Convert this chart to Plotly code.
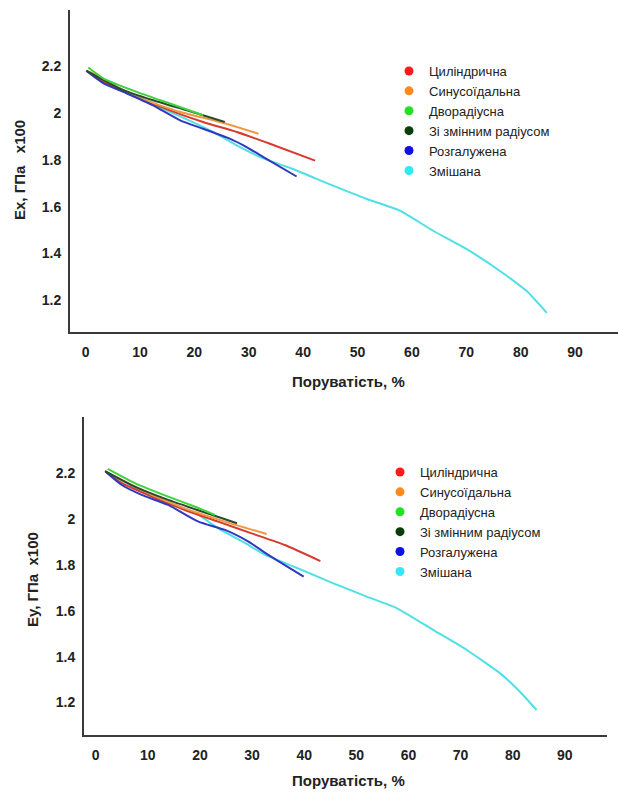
import plotly.graph_objects as go

W, H = 618, 792

series_names = ["Циліндрична", "Синусоїдальна", "Дворадіусна",
                "Зі змінним радіусом", "Розгалужена", "Змішана"]
line_colors = ["#d83a30", "#f0983e", "#3fd23f", "#2b4a2b", "#3038c0", "#4fe0e6"]
dot_colors = ["#ff1a1a", "#ff8a1f", "#22e022", "#0b3d0b", "#1010e0", "#33e8f4"]

x_ticks = [0, 10, 20, 30, 40, 50, 60, 70, 80, 90]
x_ticktext = ["0", "10", "20", "30", "40", "50", "60", "70", "80", "90"]
y_ticks = [1.2, 1.4, 1.6, 1.8, 2.0, 2.2]
y_ticktext = ["1.2", "1.4", "1.6", "1.8", "2", "2.2"]

# ---- Ex (top chart) ----
ex_cyl_x = [0.2, 3.3, 9.4, 15.5, 21.6, 27.8, 33.9, 42.2]
ex_cyl_y = [2.181, 2.133, 2.069, 2.012, 1.962, 1.919, 1.869, 1.797]
ex_sin_x = [0.8, 9.4, 17.4, 24.7, 31.8]
ex_sin_y = [2.176, 2.069, 2.005, 1.962, 1.912]
ex_two_x = [0.5, 3.3, 9.4, 15.5, 21.6]
ex_two_y = [2.195, 2.148, 2.091, 2.041, 1.991]
ex_var_x = [0.2, 6.3, 12.4, 18.6, 25.6]
ex_var_y = [2.181, 2.105, 2.055, 2.012, 1.962]
ex_br_x = [0.1, 3.3, 7.6, 12.4, 17.4, 21.6, 26.5, 29.6, 32.7, 38.8]
ex_br_y = [2.181, 2.127, 2.084, 2.033, 1.969, 1.933, 1.891, 1.855, 1.812, 1.729]
ex_mix_x = [0.2, 9.4, 17.4, 22.9, 27.8, 32.1, 38.0, 45.5, 51.7, 57.8, 63.9, 70.1, 76.2, 81.1, 84.8]
ex_mix_y = [2.181, 2.069, 1.986, 1.926, 1.862, 1.812, 1.762, 1.690, 1.633, 1.583, 1.497, 1.418, 1.325, 1.239, 1.146]

# ---- Ey (bottom chart) ----
ey_cyl_x = [1.8, 5.0, 10.8, 17.1, 23.5, 29.9, 36.3, 43.1]
ey_cyl_y = [2.210, 2.157, 2.098, 2.040, 1.989, 1.938, 1.887, 1.817]
ey_sin_x = [1.8, 10.8, 17.1, 24.8, 32.8]
ey_sin_y = [2.207, 2.106, 2.047, 1.989, 1.935]
ey_two_x = [2.3, 7.5, 13.9, 19.1, 22.9]
ey_two_y = [2.219, 2.157, 2.098, 2.054, 2.018]
ey_var_x = [1.8, 7.5, 13.9, 20.4, 27.1]
ey_var_y = [2.210, 2.142, 2.084, 2.033, 1.982]
ey_br_x = [1.9, 5.0, 8.8, 13.9, 19.7, 24.8, 29.3, 33.1, 39.9]
ey_br_y = [2.207, 2.149, 2.106, 2.062, 1.989, 1.953, 1.902, 1.844, 1.749]
ey_mix_x = [1.9, 10.8, 19.1, 23.5, 28.7, 32.5, 38.4, 45.6, 52.0, 57.8, 64.8, 71.2, 77.6, 81.4, 84.6]
ey_mix_y = [2.207, 2.098, 2.027, 1.960, 1.895, 1.844, 1.789, 1.720, 1.662, 1.611, 1.516, 1.429, 1.327, 1.247, 1.167]

ex_series = [(ex_cyl_x, ex_cyl_y), (ex_sin_x, ex_sin_y), (ex_two_x, ex_two_y),
             (ex_var_x, ex_var_y), (ex_br_x, ex_br_y), (ex_mix_x, ex_mix_y)]
ey_series = [(ey_cyl_x, ey_cyl_y), (ey_sin_x, ey_sin_y), (ey_two_x, ey_two_y),
             (ey_var_x, ey_var_y), (ey_br_x, ey_br_y), (ey_mix_x, ey_mix_y)]

FONT = "Liberation Sans, Arial, sans-serif"
TXT = "#222222"

fig = go.Figure()

# draw order: cyan underneath, then others
order = [5, 0, 1, 4, 3, 2]
for (series, xa, ya, lg, grp) in [(ex_series, "x", "y", "legend", "a"),
                                  (ey_series, "x2", "y2", "legend2", "b")]:
    for i in order:
        sx, sy = series[i]
        fig.add_trace(go.Scatter(
            x=sx, y=sy, mode="lines",
            line=dict(color=line_colors[i], width=2, shape="spline", smoothing=0.5),
            xaxis=xa, yaxis=ya, showlegend=False, legendgroup=grp + str(i),
            hoverinfo="skip"))
    for i in range(6):
        fig.add_trace(go.Scatter(
            x=[None], y=[None], mode="markers", name=series_names[i],
            marker=dict(color=dot_colors[i], size=9, symbol="circle"),
            xaxis=xa, yaxis=ya, legend=lg, legendgroup=grp + str(i), showlegend=True))

tickfont = dict(family=FONT, size=14, color=TXT, weight="bold")
axis_common = dict(showline=True, linecolor="#3a3a3a", linewidth=2, showgrid=False,
                   zeroline=False, ticks="", mirror=False, tickfont=tickfont)

title_font = dict(family=FONT, size=15, color=TXT)

fig.update_layout(
    width=W, height=H, autosize=False,
    margin=dict(l=0, r=0, t=0, b=0),
    paper_bgcolor="white", plot_bgcolor="white",
    font=dict(family=FONT, color=TXT),
    xaxis=dict(domain=[70 / W, 1.0], range=[-2.87, 97.9], tickvals=x_ticks, ticktext=x_ticktext,
               anchor="y", ticklabelstandoff=6, **axis_common),
    yaxis=dict(domain=[1 - 332 / H, 1 - 10 / H], range=[1.064, 2.441], tickvals=y_ticks, ticktext=y_ticktext,
               anchor="x", ticklabelstandoff=4, **axis_common),
    xaxis2=dict(domain=[84 / W, 607 / W], range=[-2.25, 98.1], tickvals=x_ticks, ticktext=x_ticktext,
                anchor="y2", ticklabelstandoff=6, **axis_common),
    yaxis2=dict(domain=[1 - 735 / H, 1 - 416.7 / H], range=[1.058, 2.447], tickvals=y_ticks, ticktext=y_ticktext,
                anchor="x2", ticklabelstandoff=4, **axis_common),
    legend=dict(x=389 / W, y=1 - 56 / H, xanchor="left", yanchor="top",
                font=dict(family=FONT, size=13, color=TXT), bgcolor="rgba(0,0,0,0)",
                itemwidth=30, tracegroupgap=0),
    legend2=dict(x=380 / W, y=1 - 457 / H, xanchor="left", yanchor="top",
                 font=dict(family=FONT, size=13, color=TXT), bgcolor="rgba(0,0,0,0)",
                 itemwidth=30, tracegroupgap=0),
    annotations=[
        dict(text="<b>Поруватість, %</b>", x=348 / W, y=1 - 381 / H, xref="paper", yref="paper",
             xanchor="center", yanchor="middle", showarrow=False, font=title_font),
        dict(text="<b>Ex, ГПа   x100</b>", x=19 / W, y=1 - 170 / H, xref="paper", yref="paper",
             xanchor="center", yanchor="middle", showarrow=False, textangle=-90, font=title_font),
        dict(text="<b>Поруватість, %</b>", x=348 / W, y=1 - 780 / H, xref="paper", yref="paper",
             xanchor="center", yanchor="middle", showarrow=False, font=title_font),
        dict(text="<b>Ey, ГПа  x100</b>", x=32 / W, y=1 - 580 / H, xref="paper", yref="paper",
             xanchor="center", yanchor="middle", showarrow=False, textangle=-90, font=title_font),
    ],
)

fig.write_html("out.html", config={"displayModeBar": False},
               post_script="document.body.style.margin='0';")
